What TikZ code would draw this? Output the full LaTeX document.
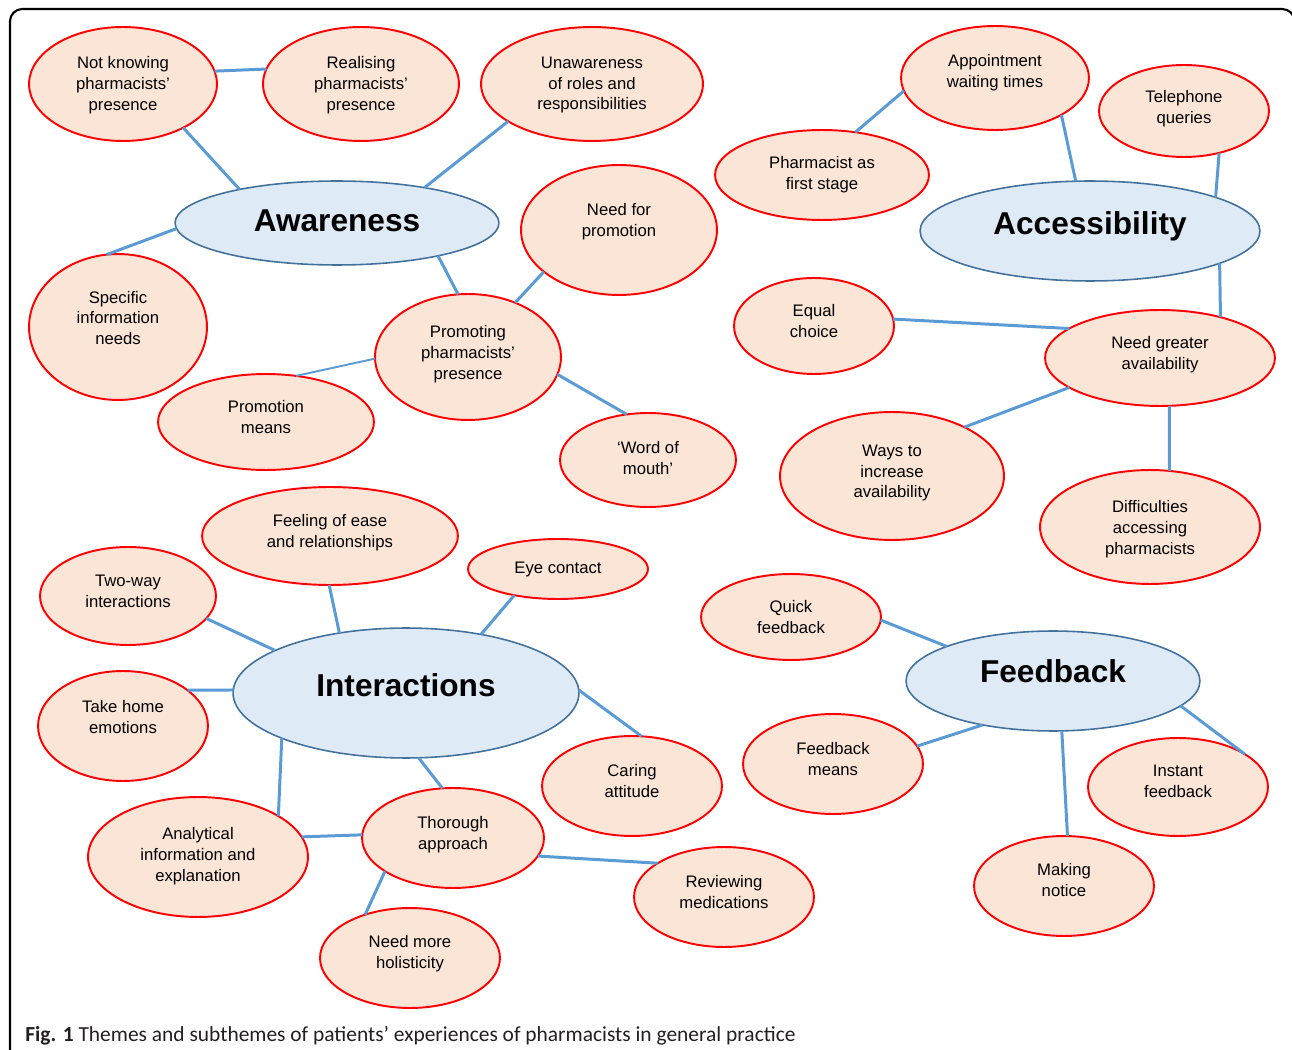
\documentclass[tikz,border=0pt]{standalone}
\usepackage{fontspec}
\setmainfont{Liberation Sans}
\newfontfamily\capfont{Carlito}
\usetikzlibrary{shapes.geometric}
\definecolor{subfill}{HTML}{FBE5D6}
\definecolor{subdraw}{HTML}{FF0000}
\definecolor{themefill}{HTML}{DEEBF7}
\definecolor{themedraw}{HTML}{41719C}
\definecolor{linkc}{HTML}{5B9BD5}
\definecolor{capc}{HTML}{231F20}
% bubble: name, x, y, rx, ry, text y-offset (px), text
\newcommand\bub[7]{%
  \node[sub, sz={#4}{#5}] (#1) at (#2,#3) {};
  \node[subtxt] (#1-t) at (#2,#3+#6) {#7};}
\newcommand\thm[7]{%
  \node[theme, sz={#4}{#5}] (#1) at (#2,#3) {};
  \node[thmtxt] (#1-t) at (#2,#3+#6) {#7};}
\begin{document}
\begin{tikzpicture}[x=0.02cm,y=-0.02cm,
 sub/.style={ellipse, draw=subdraw, line width=1.1pt, fill=subfill, inner sep=0pt, outer sep=0pt},
 subtxt/.style={inner sep=0pt, align=center, font=\fontsize{9.5}{11.9}\selectfont},
 theme/.style={ellipse, draw=themedraw, line width=0.9pt, fill=themefill, inner sep=0pt, outer sep=0pt},
 thmtxt/.style={inner sep=0pt, font=\fontsize{18}{21}\selectfont\bfseries},
 sz/.style 2 args={minimum width=#1*0.04cm, minimum height=#2*0.04cm},
 link/.style={draw=linkc, line width=1.7pt},
 thinlink/.style={draw=linkc, line width=1.1pt}]
\useasboundingbox (0,0) rectangle (1292,1050);
\draw[line width=1.2pt, rounded corners=7pt] (10,1070) -- (10,9) -- (1294.5,9) -- (1294.5,1070);

% Awareness
\thm{aw}{337}{223}{162}{42}{-2}{Awareness}
\bub{nk}{123}{84}{94}{57}{1}{Not knowing\\pharmacists’\\presence}
\bub{re}{361}{84}{98}{57}{1}{Realising\\pharmacists’\\presence}
\bub{un}{592}{84}{111}{57}{1}{Unawareness\\of roles and\\responsibilities}
\bub{sp}{118}{327}{89}{73}{-9}{Specific\\information\\needs}
\bub{np}{619}{230}{98}{65}{-8}{Need for\\promotion}
\bub{pp}{468}{357}{93}{63}{-3}{Promoting\\pharmacists’\\presence}
\bub{pm}{266}{422}{108}{48}{-5}{Promotion\\means}
\bub{wm}{648}{460}{88}{47}{-2}{‘Word of\\mouth’}

% Accessibility
\thm{ac}{1090}{231}{170}{50}{-5}{Accessibility}
\bub{ap}{995}{78}{94}{52}{-5}{Appointment\\waiting times}
\bub{tq}{1184}{111}{85}{46}{-2}{Telephone\\queries}
\bub{pf}{822}{175}{107}{45}{0}{Pharmacist as\\first stage}
\bub{ec}{814}{326}{80}{48}{-5}{Equal\\choice}
\bub{ng}{1160}{358}{115}{48}{-3}{Need greater\\availability}
\bub{wi}{892}{476}{112}{64}{-3}{Ways to\\increase\\availability}
\bub{da}{1150}{527}{110}{57}{2}{Difficulties\\accessing\\pharmacists}

% Interactions
\thm{int}{406}{693}{173}{65}{-8}{Interactions}
\bub{fe}{330}{536}{128}{49}{-3}{Feeling of ease\\and relationships}
\bub{ey}{558}{569}{90}{30}{0}{Eye contact}
\bub{tw}{128}{596}{88}{49}{-5}{Two-way\\interactions}
\bub{th}{123}{726}{85}{55}{-9}{Take home\\emotions}
\bub{ca}{632}{786}{90}{50}{-5}{Caring\\attitude}
\bub{an}{198}{857}{110}{60}{-1}{Analytical\\information and\\explanation}
\bub{tho}{453}{838}{91}{50}{-3}{Thorough\\approach}
\bub{rm}{724}{897}{90}{50}{-5}{Reviewing\\medications}
\bub{nh}{410}{958}{90}{50}{-4}{Need more\\holisticity}

% Feedback
\thm{fb}{1053}{681}{147}{50}{-10}{Feedback}
\bub{qf}{791}{617}{90}{43}{0}{Quick\\feedback}
\bub{fm}{833}{764}{90}{50}{-5}{Feedback\\means}
\bub{if}{1178}{787}{90}{49}{-6}{Instant\\feedback}
\bub{mn}{1064}{886}{90}{50}{-6}{Making\\notice}

% connectors
\draw[link] (nk.8.5) -- (re.171.9);
\draw[link] (nk.-36.6) -- (aw.161.5);
\draw[link] (un.204.6) -- (aw.22.3);
\draw[link] (sp.99.3) -- (aw.182.1);
\draw[link] (aw.-18.1) -- (pp.99.2);
\draw[link] (np.209.5) -- (pp.49.5);
\draw[thinlink] (pp.181.2) -- (pm.57.1);
\draw[link] (pp.-11.1) -- (wm.115);

\draw[link] (ap.188.5) -- (pf.52.9);
\draw[link] (ap.-29.9) -- (ac.106.7);
\draw[link] (tq.-50.3) -- (ac.15);
\draw[link] (ac.-14.5) -- (ng.34.6);
\draw[link] (ec.5.7) -- (ng.162.1);
\draw[link] (ng.198.1) -- (wi.34.4);
\draw[link] (ng.-79.4) -- (da.71.3);

\draw[link] (fe.-91.1) -- (int.138.5);
\draw[link] (ey.211.5) -- (int.38.3);
\draw[link] (tw.-16.7) -- (int.162);
\draw[link] (th.29.4) -- (int.179);
\draw[link] (int.1) -- (ca.79.4);
\draw[link] (int.-79.8) -- (tho.102.9);
\draw[link] (int.200.6) -- (an.27.4);
\draw[link] (an.11.3) -- (tho.178.7);
\draw[link] (tho.-12) -- (rm.153.4);
\draw[link] (tho.206.6) -- (nh.136.9);

\draw[link] (qf.-2.5) -- (fb.162.2);
\draw[link] (fb.212.4) -- (fm.12.1);
\draw[link] (fb.-11.6) -- (if.26.2);
\draw[link] (fb.-80.9) -- (mn.86.6);

\node[anchor=base west, inner sep=0pt, text=capc, font=\capfont\fontsize{12.2}{14}\selectfont] (cap) at (25,1041) {\textbf{Fig. 1} Themes and subthemes of patients’ experiences of pharmacists in general practice};
\end{tikzpicture}
\end{document}
